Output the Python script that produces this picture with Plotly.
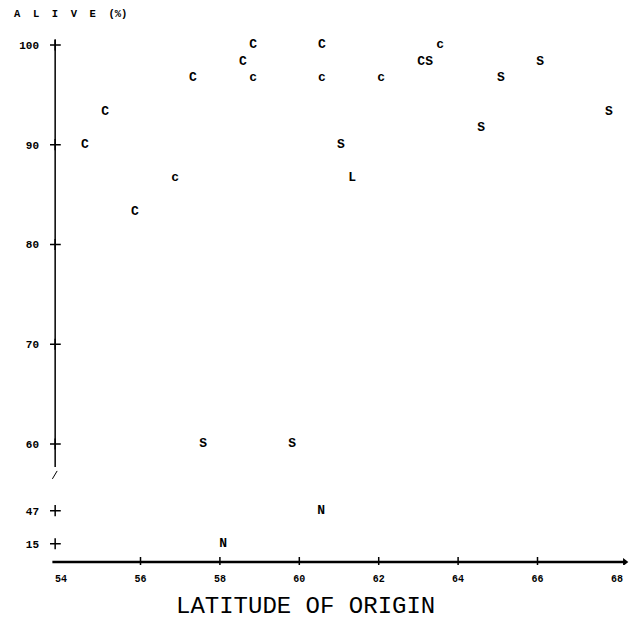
import plotly.graph_objects as go

# ---- data ----
latitude = [54.60, 55.11, 55.86, 56.87, 57.32, 58.58, 58.84, 58.84, 60.57, 60.57,
            62.06, 63.17, 63.55, 61.05, 61.33, 64.58, 65.08, 66.07, 67.80,
            57.58, 59.82, 60.55, 58.08]
alive_pct = [90.0, 93.3, 83.3, 86.7, 96.7, 98.3, 100.0, 96.7, 100.0, 96.7,
             96.7, 98.3, 100.0, 90.0, 86.7, 91.7, 96.7, 98.3, 93.3,
             60.0, 60.0, 47.0, 15.0]
labels = ["C", "C", "C", "c", "C", "C", "C", "c", "C", "c",
          "c", "CS", "c", "S", "L", "S", "S", "S", "S",
          "S", "S", "N", "N"]

x_ticks = [54, 56, 58, 60, 62, 64, 66, 68]
y_ticks = [100, 90, 80, 70, 60, 47, 15]

# broken y scale: values below the break are compressed
def to_axis(v):
    if v >= 60:
        return v
    return 50.0 + (v - 15.0) * 0.1035

y_disp = [to_axis(v) for v in alive_pct]
y_tick_pos = [to_axis(v) for v in y_ticks]

X0, X1 = 53.72, 68.33
Y0, Y1 = 47.87, 101.5
YAX = 53.85      # y-axis line position (x)
XAX = 48.17      # x-axis line position (y)

mono = "Liberation Mono"

fig = go.Figure()

# axis lines
fig.add_shape(type="line", x0=YAX, x1=YAX, y0=57.7, y1=100.5,
              line=dict(color="black", width=1.5))
fig.add_shape(type="line", x0=53.78, x1=53.90, y0=56.5, y1=57.3,
              line=dict(color="black", width=1))
fig.add_shape(type="line", x0=53.78, x1=68.2, y0=XAX, y1=XAX,
              line=dict(color="black", width=2.5))

# tick crosses
fig.add_trace(go.Scatter(x=[YAX] * len(y_tick_pos), y=y_tick_pos, mode="markers",
                         marker=dict(symbol="cross-thin", size=8,
                                     line=dict(color="black", width=1.5)),
                         hoverinfo="skip", showlegend=False))
fig.add_trace(go.Scatter(x=x_ticks[1:-1], y=[XAX] * (len(x_ticks) - 2), mode="markers",
                         marker=dict(symbol="cross-thin", size=7,
                                     line=dict(color="black", width=1.5)),
                         hoverinfo="skip", showlegend=False))
fig.add_trace(go.Scatter(x=[68.2], y=[XAX], mode="markers",
                         marker=dict(symbol="triangle-right", size=7, color="black"),
                         hoverinfo="skip", showlegend=False))

# data letters
fig.add_trace(go.Scatter(x=latitude, y=y_disp, mode="text", text=labels,
                         textposition="middle center",
                         textfont=dict(family=mono, size=13, color="black", weight="bold"),
                         showlegend=False))

fig.update_layout(
    width=634, height=622,
    margin=dict(l=50, r=4, t=30, b=57),
    paper_bgcolor="white", plot_bgcolor="white",
    xaxis=dict(range=[X0, X1], showgrid=False, zeroline=False, showline=False,
               tickvals=x_ticks, ticktext=[str(v) for v in x_ticks], ticks="",
               ticklabelstandoff=6,
               tickfont=dict(family=mono, size=10, color="black", weight="bold")),
    yaxis=dict(range=[Y0, Y1], showgrid=False, zeroline=False, showline=False,
               tickvals=y_tick_pos, ticktext=[str(v) for v in y_ticks], ticks="",
               ticklabelstandoff=10,
               tickfont=dict(family=mono, size=11, color="black", weight="bold")),
    annotations=[
        dict(text="A\u00a0\u00a0L\u00a0\u00a0I\u00a0\u00a0V\u00a0\u00a0E\u00a0\u00a0(%)",
             xref="paper", yref="paper", x=(12 - 50) / 580, y=(565 - 14) / 535,
             xanchor="left", yanchor="middle", showarrow=False,
             font=dict(family=mono, size=10.5, color="black", weight="bold")),
        dict(text="LATITUDE OF ORIGIN",
             xref="paper", yref="paper", x=(305 - 50) / 580, y=(565 - 606) / 535,
             xanchor="center", yanchor="middle", showarrow=False,
             font=dict(family=mono, size=24, color="black")),
    ],
)

fig.write_html("out.html")
